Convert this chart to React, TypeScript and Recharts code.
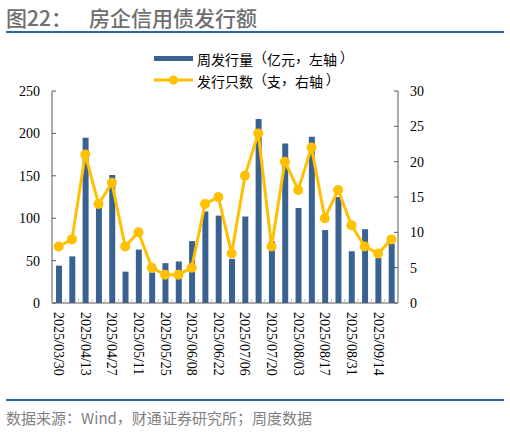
import React from 'react';
import { ComposedChart, Bar, Line, XAxis, YAxis } from 'recharts';

const dates = [
  '2025/03/30', '2025/04/06', '2025/04/13', '2025/04/20', '2025/04/27', '2025/05/04',
  '2025/05/11', '2025/05/18', '2025/05/25', '2025/06/01', '2025/06/08', '2025/06/15',
  '2025/06/22', '2025/06/29', '2025/07/06', '2025/07/13', '2025/07/20', '2025/07/27',
  '2025/08/03', '2025/08/10', '2025/08/17', '2025/08/24', '2025/08/31', '2025/09/07',
  '2025/09/14', '2025/09/21',
];
const volume = [44, 55, 195, 115, 151, 37, 63, 36, 47, 49, 73, 108, 103, 52, 102, 217, 73, 188, 112, 196, 86, 125, 61, 87, 53, 70];
const count = [8, 9, 21, 14, 17, 8, 10, 5, 4, 4, 5, 14, 15, 7, 18, 24, 8, 20, 16, 22, 12, 16, 11, 8, 7, 9];
const leftTicks = [0, 50, 100, 150, 200, 250];
const rightTicks = [0, 5, 10, 15, 20, 25, 30];

const data = dates.map((d, i) => ({ date: d, volume: volume[i], count: count[i] }));

const BAR = '#3A6291';
const GOLD = '#FFC000';
const CJK = '"Noto Sans CJK SC", "Noto Sans", sans-serif';
const SERIF = '"Liberation Serif", "Times New Roman", serif';
const HALF_BAND = 346 / 26 / 2;

// Full-width punctuation set in a 1em box, like the source's typesetting.
const box = (ch: string, shift: string, key: number) => (
  <span key={key} style={{ display: 'inline-block', width: '1em', position: 'relative', height: '1.2em' }}>
    <span
      style={{
        position: 'absolute',
        top: 0,
        left: 0,
        transform: `translateX(${shift})`,
        textSpacingTrim: 'space-all',
      } as any}
    >
      {ch}
    </span>
  </span>
);

const fw = (text: string) =>
  Array.from(text).map((ch, i) => {
    if (ch === '（') return box(ch, '0em', i);
    if (ch === '）') return box(ch, '0.2em', i);
    if (ch === '，' || ch === '：' || ch === '；') return box(ch, '0em', i);
    return <React.Fragment key={i}>{ch}</React.Fragment>;
  });

const XTick = (props: any) => {
  const { x, y, payload, index } = props;
  const i = payload?.index ?? index;
  return (
    <g>
      {i === 0 && <line x1={x - HALF_BAND} x2={x - HALF_BAND} y1={y} y2={y - 4} stroke="#bfbfbf" />}
      <line x1={x + HALF_BAND} x2={x + HALF_BAND} y1={y} y2={y - 4} stroke="#bfbfbf" />
      {i % 2 === 0 && (
        <text
          x={x}
          y={y + 9}
          transform={`rotate(90, ${x}, ${y + 9})`}
          textAnchor="start"
          dominantBaseline="central"
          fontFamily={SERIF}
          fontSize={14}
          fill="#000"
        >
          {payload.value}
        </text>
      )}
    </g>
  );
};

export default function App() {
  return (
    <div style={{ position: 'absolute', left: 0, top: 0, width: 510, height: 432, background: '#fff' }}>
      <div
        style={{
          position: 'absolute', left: 6, top: 3, fontFamily: CJK, fontSize: 21, color: '#6f6f6f',
          fontWeight: 500, whiteSpace: 'pre', lineHeight: '28px',
        }}
      >
        {'图22'}
        <span style={{ display: 'inline-block', width: 38 }}>：</span>
        {'房企信用债发行额'}
      </div>
      <div style={{ position: 'absolute', left: 6, top: 31, width: 498, height: 2, background: '#2a64ad' }} />
      <div style={{ position: 'absolute', left: 154, top: 47, fontFamily: CJK, fontSize: 14, color: '#000', whiteSpace: 'pre' }}>
        <div style={{ display: 'flex', alignItems: 'center', height: 22 }}>
          <div style={{ width: 39, height: 5, background: BAR, marginRight: 4 }} />
          <span style={{ lineHeight: '17px' }}>{fw('周发行量（亿元，左轴）')}</span>
        </div>
        <div style={{ display: 'flex', alignItems: 'center', height: 22 }}>
          <svg width={39} height={12} style={{ marginRight: 4 }}>
            <line x1={0} x2={39} y1={6} y2={6} stroke={GOLD} strokeWidth={3} />
            <circle cx={19.5} cy={6} r={4.5} fill={GOLD} />
          </svg>
          <span style={{ lineHeight: '17px' }}>{fw('发行只数（支，右轴）')}</span>
        </div>
      </div>
      <ComposedChart
        width={510}
        height={432}
        data={data}
        margin={{ top: 91, right: 0, bottom: 0, left: 0 }}
        style={{ position: 'absolute', left: 0, top: 0 }}
      >
        <XAxis
          dataKey="date"
          interval={0}
          height={129}
          tickSize={0}
          tickMargin={0}
          tickLine={false}
          axisLine={{ stroke: '#595959' }}
          tick={<XTick />}
        />
        <YAxis
          yAxisId="left"
          orientation="left"
          width={52}
          domain={[0, 250]}
          ticks={leftTicks}
          tickSize={-4}
          tickMargin={16}
          axisLine={{ stroke: '#595959' }}
          tickLine={{ stroke: '#595959' }}
          tick={{ fontFamily: SERIF, fontSize: 14, fill: '#000' }}
          interval={0}
        />
        <YAxis
          yAxisId="right"
          orientation="right"
          width={112}
          domain={[0, 30]}
          ticks={rightTicks}
          tickSize={-4}
          tickMargin={16}
          axisLine={{ stroke: '#595959' }}
          tickLine={{ stroke: '#595959' }}
          tick={{ fontFamily: SERIF, fontSize: 14, fill: '#000', textAnchor: 'start' }}
          interval={0}
        />
        <Bar yAxisId="left" dataKey="volume" fill={BAR} barSize={6} isAnimationActive={false} />
        <Line
          yAxisId="right"
          dataKey="count"
          stroke={GOLD}
          strokeWidth={3}
          dot={{ r: 5, fill: GOLD, stroke: GOLD, strokeWidth: 0 }}
          activeDot={false}
          isAnimationActive={false}
        />
      </ComposedChart>
      <div style={{ position: 'absolute', left: 6, top: 399, width: 498, height: 1.5, background: '#2a64ad' }} />
      <div
        style={{
          position: 'absolute', left: 6, top: 406, fontFamily: CJK, fontSize: 15, color: '#7f7f7f',
          lineHeight: '22px', whiteSpace: 'pre',
        }}
      >
        {fw('数据来源：Wind，财通证券研究所；周度数据')}
      </div>
    </div>
  );
}
